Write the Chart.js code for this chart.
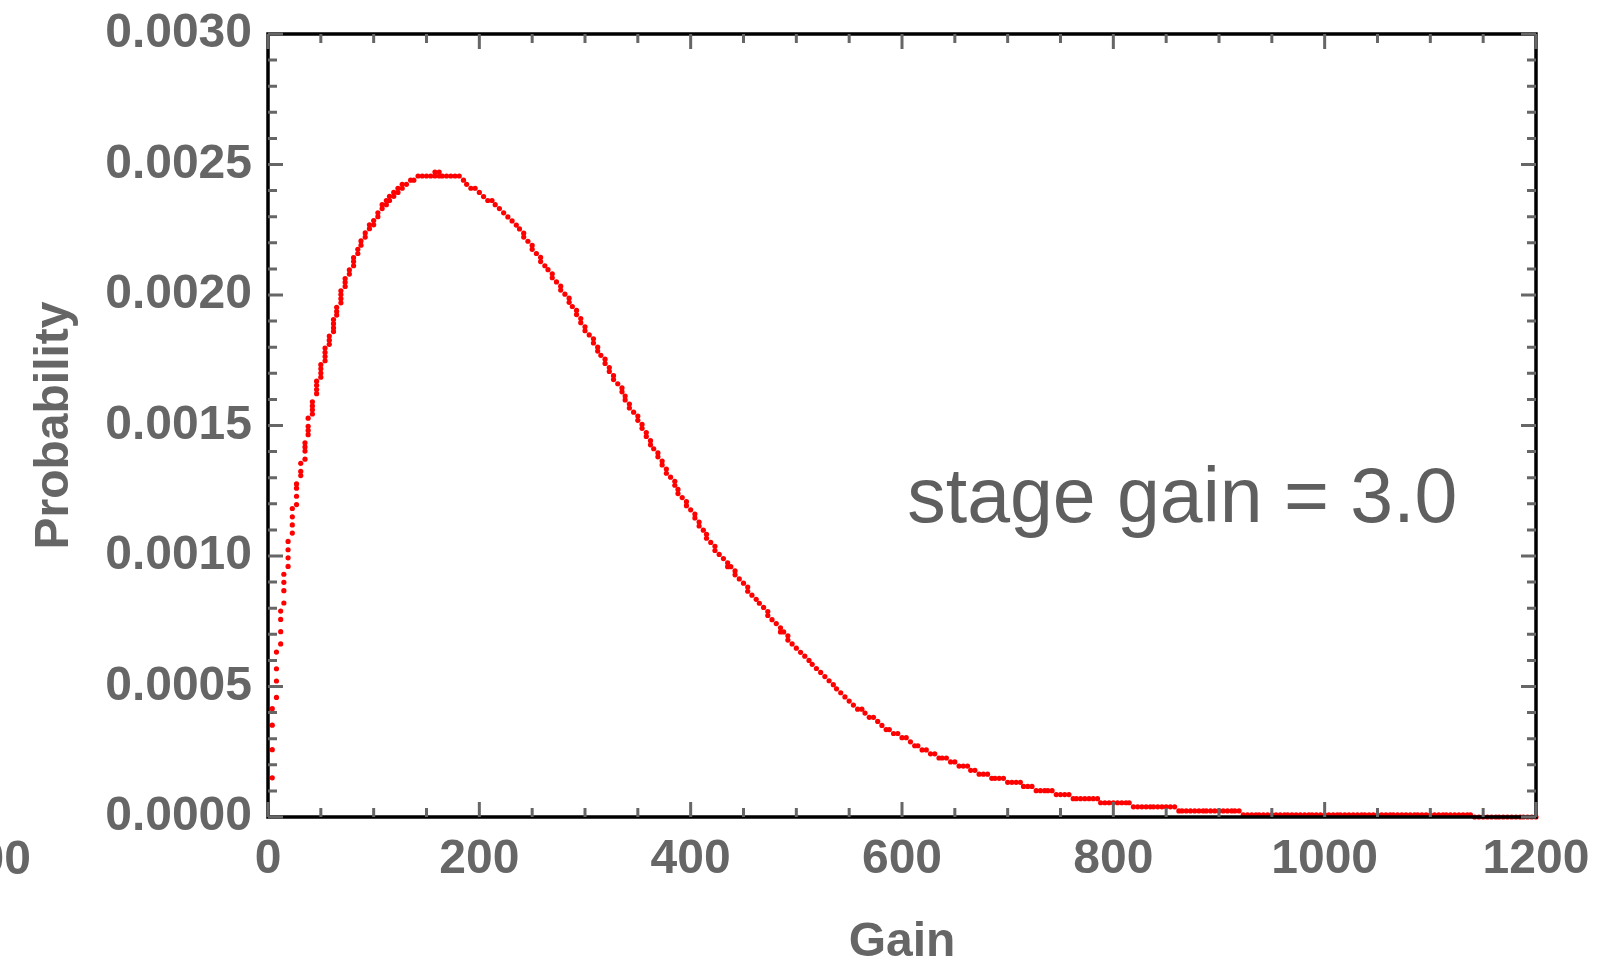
<!DOCTYPE html>
<html>
<head>
<meta charset="utf-8">
<title>Gain distribution</title>
<script src="https://cdn.jsdelivr.net/npm/chart.js@4.4.1/dist/chart.umd.min.js"></script>
<style>
  html, body { margin: 0; padding: 0; background: #fff; }
  canvas { display: block; }
</style>
</head>
<body>
<canvas id="gainChart" width="1599" height="966"></canvas>
<script>
// gain bins; every bin lists the probability values plotted in that column
var riseGain = [4, 8, 12, 15, 19, 23, 27, 31, 35, 38, 42, 46,
  50, 54, 58, 62, 65, 69, 73, 77, 81, 85, 88, 92, 96,
  100, 104, 108, 112, 115, 119, 123, 127, 131, 135, 138];
var riseProb = [
  [0.000150, 0.000258, 0.000352, 0.000415],
  [0.000458, 0.000521, 0.000568, 0.000632],
  [0.000663, 0.000710, 0.000757, 0.000789],
  [0.000820, 0.000867, 0.000899, 0.000930],
  [0.000960, 0.000993, 0.001024, 0.001056],
  [0.001088, 0.001119, 0.001150, 0.001182],
  [0.001197, 0.001229, 0.001260, 0.001276],
  [0.001308, 0.001324, 0.001355],
  [0.001371, 0.001402, 0.001418, 0.001434],
  [0.001465, 0.001481, 0.001497, 0.001528],
  [0.001544, 0.001560, 0.001575, 0.001591],
  [0.001622, 0.001638, 0.001654, 0.001670],
  [0.001685, 0.001701, 0.001717, 0.001733],
  [0.001748, 0.001764, 0.001780, 0.001797],
  [0.001811, 0.001827, 0.001843],
  [0.001860, 0.001874, 0.001890, 0.001906],
  [0.001923, 0.001937, 0.001953],
  [0.001970, 0.001986, 0.002002, 0.002016],
  [0.002033, 0.002049, 0.002063],
  [0.002080, 0.002096],
  [0.002112, 0.002128, 0.002143],
  [0.002159, 0.002175],
  [0.002191, 0.002207],
  [0.002222, 0.002238],
  [0.002254, 0.002269],
  [0.002269, 0.002285],
  [0.002300, 0.002315],
  [0.002331, 0.002346],
  [0.002346, 0.002362],
  [0.002362, 0.002378],
  [0.002378, 0.002393],
  [0.002393, 0.002409],
  [0.002409, 0.002424],
  [0.002424],
  [0.002440],
  [0.002440]
];

var fallGain = [142, 146,
  150, 154, 158, 162, 165, 169, 173, 177, 181, 185, 188, 192, 196,
  200, 204, 208, 212, 215, 219, 223, 227, 231, 235, 238, 242, 246,
  250, 254, 258, 262, 265, 269, 273, 277, 281, 285, 288, 292, 296,
  300, 304, 308, 312, 315, 319, 323, 327, 331, 335, 338, 342, 346,
  350, 354, 358, 362, 365, 369, 373, 377, 381, 385, 388, 392, 396,
  400, 404, 408, 412, 415, 419, 423, 427, 431, 435, 438, 442, 446,
  450, 454, 458, 462, 465, 469, 473, 477, 481, 485, 488, 492, 496,
  500, 504, 508, 512, 515, 519, 523, 527, 531, 535, 538, 542, 546,
  550, 554, 558, 562, 565, 569, 573, 577, 581, 585, 588, 592, 596,
  600, 604, 608, 612, 615, 619, 623, 627, 631, 635, 638, 642, 646,
  650, 654, 658, 662, 665, 669, 673, 677, 681, 685, 688, 692, 696];
var fallProb = [[0.002456], [0.002456],
  [0.002456], [0.002456], [0.002456, 0.002471], [0.002456, 0.002471], [0.002456], [0.002456], [0.002456], [0.002456], [0.002456], [0.002440], [0.002424], [0.002409], [0.002409],
  [0.002393], [0.002377], [0.002362], [0.002362], [0.002346], [0.002331], [0.002315], [0.002299], [0.002284], [0.002268], [0.002253], [0.002237, 0.002222], [0.002206],
  [0.002190, 0.002175], [0.002159], [0.002144, 0.002128], [0.002112], [0.002097], [0.002081, 0.002066], [0.002050], [0.002034, 0.002019], [0.002003], [0.001988, 0.001972], [0.001956], [0.001941, 0.001925], [0.001910, 0.001894],
  [0.001878, 0.001863], [0.001847], [0.001832, 0.001816], [0.001800, 0.001785], [0.001769], [0.001754, 0.001738], [0.001722, 0.001707], [0.001691, 0.001676], [0.001660], [0.001644, 0.001629], [0.001613, 0.001598], [0.001582, 0.001567], [0.001551],
  [0.001536, 0.001520], [0.001504, 0.001489], [0.001473, 0.001458], [0.001442, 0.001426], [0.001411], [0.001395, 0.001380], [0.001364, 0.001349], [0.001333, 0.001317], [0.001302], [0.001286, 0.001271], [0.001255, 0.001239], [0.001224], [0.001208, 0.001193],
  [0.001177], [0.001161, 0.001146], [0.001130, 0.001115], [0.001099], [0.001083, 0.001068], [0.001052], [0.001037, 0.001021], [0.001006], [0.000990], [0.000974, 0.000959], [0.000959], [0.000943, 0.000928], [0.000912],
  [0.000896], [0.000881, 0.000865], [0.000850], [0.000834], [0.000819], [0.000803], [0.000787, 0.000772], [0.000756], [0.000741], [0.000725, 0.000709], [0.000709], [0.000694, 0.000678], [0.000663],
  [0.000647], [0.000631], [0.000616], [0.000600], [0.000585], [0.000569], [0.000554], [0.000538], [0.000522], [0.000507], [0.000491], [0.000476], [0.000460],
  [0.000444], [0.000429], [0.000413], [0.000413], [0.000398], [0.000382], [0.000382], [0.000366], [0.000351], [0.000335], [0.000335], [0.000320], [0.000320],
  [0.000304], [0.000304], [0.000288], [0.000273], [0.000273], [0.000257], [0.000257], [0.000242], [0.000242], [0.000226], [0.000226], [0.000226], [0.000211],
  [0.000211], [0.000195], [0.000195], [0.000195], [0.000179], [0.000179], [0.000164], [0.000164], [0.000164], [0.000148], [0.000148], [0.000148], [0.000148]
];

// long tail, one value per bin
var tailGain = [700, 704, 708, 712, 715, 719, 723, 727, 731, 735, 738, 742, 746,
  750, 754, 758, 762, 765, 769, 773, 777, 781, 785, 788, 792, 796,
  800, 804, 808, 812, 815, 819, 823, 827, 831, 835, 838, 842, 846,
  850, 854, 858, 862, 865, 869, 873, 877, 881, 885, 888, 892, 896,
  900, 904, 908, 912, 915, 919, 923, 927, 931, 935, 938, 942, 946,
  950, 954, 958, 962, 965, 969, 973, 977, 981, 985, 988, 992, 996,
  1000, 1004, 1008, 1012, 1015, 1019, 1023, 1027, 1031, 1035, 1038, 1042, 1046,
  1050, 1054, 1058, 1062, 1065, 1069, 1073, 1077, 1081, 1085, 1088, 1092, 1096,
  1100, 1104, 1108, 1112, 1115, 1119, 1123, 1127, 1131, 1135, 1138, 1142, 1146,
  1150, 1154, 1158, 1162, 1165, 1169, 1173, 1177, 1181, 1185, 1188, 1192, 1196, 1200];
var tailProb = [0.000133, 0.000133, 0.000133, 0.000133, 0.000117, 0.000117, 0.000117, 0.000101, 0.000101, 0.000101, 0.000101, 0.000101, 0.0000858,
  0.0000858, 0.0000858, 0.0000858, 0.0000702, 0.0000702, 0.0000702, 0.0000702, 0.0000702, 0.0000702, 0.0000702, 0.0000546, 0.0000546, 0.0000546,
  0.0000546, 0.0000546, 0.0000546, 0.0000546, 0.0000546, 0.0000390, 0.0000390, 0.0000390, 0.0000390, 0.0000390, 0.0000390, 0.0000390, 0.0000390,
  0.0000390, 0.0000390, 0.0000390, 0.0000234, 0.0000234, 0.0000234, 0.0000234, 0.0000234, 0.0000234, 0.0000234, 0.0000234, 0.0000234, 0.0000234,
  0.0000234, 0.0000234, 0.0000234, 0.0000234, 0.0000234, 0.0000234, 0.0000078, 0.0000078, 0.0000078, 0.0000078, 0.0000078, 0.0000078, 0.0000078,
  0.0000078, 0.0000078, 0.0000078, 0.0000078, 0.0000078, 0.0000078, 0.0000078, 0.0000078, 0.0000078, 0.0000078, 0.0000078, 0.0000078, 0.0000078,
  0.0000078, 0.0000078, 0.0000078, 0.0000078, 0.0000078, 0.0000078, 0.0000078, 0.0000078, 0.0000078, 0.0000078, 0.0000078, 0.0000078, 0.0000078,
  0.0000078, 0.0000078, 0.0000078, 0.0000078, 0.0000078, 0.0000078, 0.0000078, 0.0000078, 0.0000078, 0.0000078, 0.0000078, 0.0000078, 0.0000078,
  0.0000078, 0.0000078, 0.0000078, 0.0000078, 0.0000078, 0.0000078, 0.0000078, 0.0000078, 0.0000078, 0.0000078, 0.0000078, 0, 0,
  0, 0, 0, 0, 0, 0, 0, 0, 0, 0, 0, 0, 0, 0];

var xTicks = [0, 200, 400, 600, 800, 1000, 1200];
var yTicks = [0, 0.0005, 0.0010, 0.0015, 0.0020, 0.0025, 0.0030];

var noteText = 'stage gain = 3.0';
var noteGain = 605;
var noteProb = 0.00113;

var grey = '#666666';
var fontFamily = '"Liberation Sans", Arial, Helvetica, sans-serif';

function columnPoints(gains, probs) {
  var pts = [];
  gains.forEach(function (g, i) {
    probs[i].forEach(function (p) { pts.push({ x: g, y: p }); });
  });
  return pts;
}

var points = columnPoints(riseGain, riseProb)
  .concat(columnPoints(fallGain, fallProb))
  .concat(tailGain.map(function (g, i) { return { x: g, y: tailProb[i] }; }));

// frame with inward ticks on all four sides, plus the text note
var framePlugin = {
  id: 'frame',
  afterDatasetsDraw: function (chart) {
    var ctx = chart.ctx, a = chart.chartArea;
    var xs = chart.scales.x, ys = chart.scales.y;
    ctx.save();
    ctx.strokeStyle = '#000';
    ctx.lineWidth = 3.5;
    ctx.strokeRect(a.left, a.top, a.right - a.left, a.bottom - a.top);

    ctx.strokeStyle = grey;
    ctx.lineWidth = 3;
    ctx.beginPath();
    for (var g = 0; g <= 1200; g += 50) {
      var px = xs.getPixelForValue(g);
      var len = g % 200 === 0 ? 15 : 9;
      ctx.moveTo(px, a.bottom);
      ctx.lineTo(px, a.bottom - len);
      ctx.moveTo(px, a.top);
      ctx.lineTo(px, a.top + len);
    }
    for (var i = 0; i <= 30; i++) {
      var py = ys.getPixelForValue(i * 0.0001);
      var l = i % 5 === 0 ? 15 : 9;
      ctx.moveTo(a.left, py);
      ctx.lineTo(a.left + l, py);
      ctx.moveTo(a.right, py);
      ctx.lineTo(a.right - l, py);
    }
    ctx.stroke();
    ctx.restore();
  },
  afterDraw: function (chart) {
    var ctx = chart.ctx;
    var xs = chart.scales.x, ys = chart.scales.y;
    ctx.save();
    ctx.fillStyle = '#5f5f5f';
    ctx.font = '77px ' + fontFamily;
    ctx.textAlign = 'left';
    ctx.textBaseline = 'alphabetic';
    ctx.fillText(noteText, xs.getPixelForValue(noteGain), ys.getPixelForValue(noteProb));

    // stray tick label cut by the left edge
    ctx.fillStyle = grey;
    ctx.font = 'bold 48px ' + fontFamily;
    ctx.textAlign = 'right';
    ctx.textBaseline = 'middle';
    ctx.fillText('1200', 31, 861);
    ctx.restore();
  }
};

Chart.defaults.font.family = fontFamily;
Chart.defaults.color = grey;

var ctx = document.getElementById('gainChart').getContext('2d');
var gainChart = new Chart(ctx, {
  type: 'scatter',
  data: {
    datasets: [{
      label: 'Probability',
      data: points,
      backgroundColor: '#ff0000',
      pointRadius: 2.6,
      pointHoverRadius: 2.6,
      pointBorderWidth: 0,
      showLine: false,
      clip: false
    }]
  },
  options: {
    responsive: false,
    animation: false,
    events: [],
    layout: { padding: { left: 0, top: 34, right: 63, bottom: 0 } },
    plugins: {
      legend: { display: false },
      tooltip: { enabled: false }
    },
    scales: {
      x: {
        type: 'linear',
        min: 0,
        max: 1200,
        grid: { display: false, drawTicks: false },
        border: { display: false },
        afterBuildTicks: function (scale) {
          scale.ticks = xTicks.map(function (v) { return { value: v }; });
        },
        afterFit: function (scale) {
          scale.height = 149;
          scale.paddingLeft = 0;
          scale.paddingRight = 0;
        },
        ticks: {
          color: grey,
          padding: 14,
          maxRotation: 0,
          autoSkip: false,
          font: { size: 48, weight: 'bold' },
          callback: function (v) { return String(v); }
        },
        title: {
          display: true,
          text: 'Gain',
          color: grey,
          padding: { top: 0, bottom: -3 },
          font: { size: 48, weight: 'bold', lineHeight: 1.1 }
        }
      },
      y: {
        type: 'linear',
        min: 0,
        max: 0.003,
        grid: { display: false, drawTicks: false },
        border: { display: false },
        afterBuildTicks: function (scale) {
          scale.ticks = yTicks.map(function (v) { return { value: v }; });
        },
        afterFit: function (scale) {
          scale.width = 268;
          scale.paddingTop = 0;
          scale.paddingBottom = 0;
        },
        ticks: {
          color: grey,
          padding: 16,
          autoSkip: false,
          font: { size: 48, weight: 'bold' },
          callback: function (v) { return Number(v).toFixed(4); }
        },
        title: {
          display: true,
          text: 'Probability',
          color: grey,
          padding: { top: 26, bottom: 0 },
          font: { size: 48, weight: 'bold' }
        }
      }
    }
  },
  plugins: [framePlugin]
});
</script>
</body>
</html>
